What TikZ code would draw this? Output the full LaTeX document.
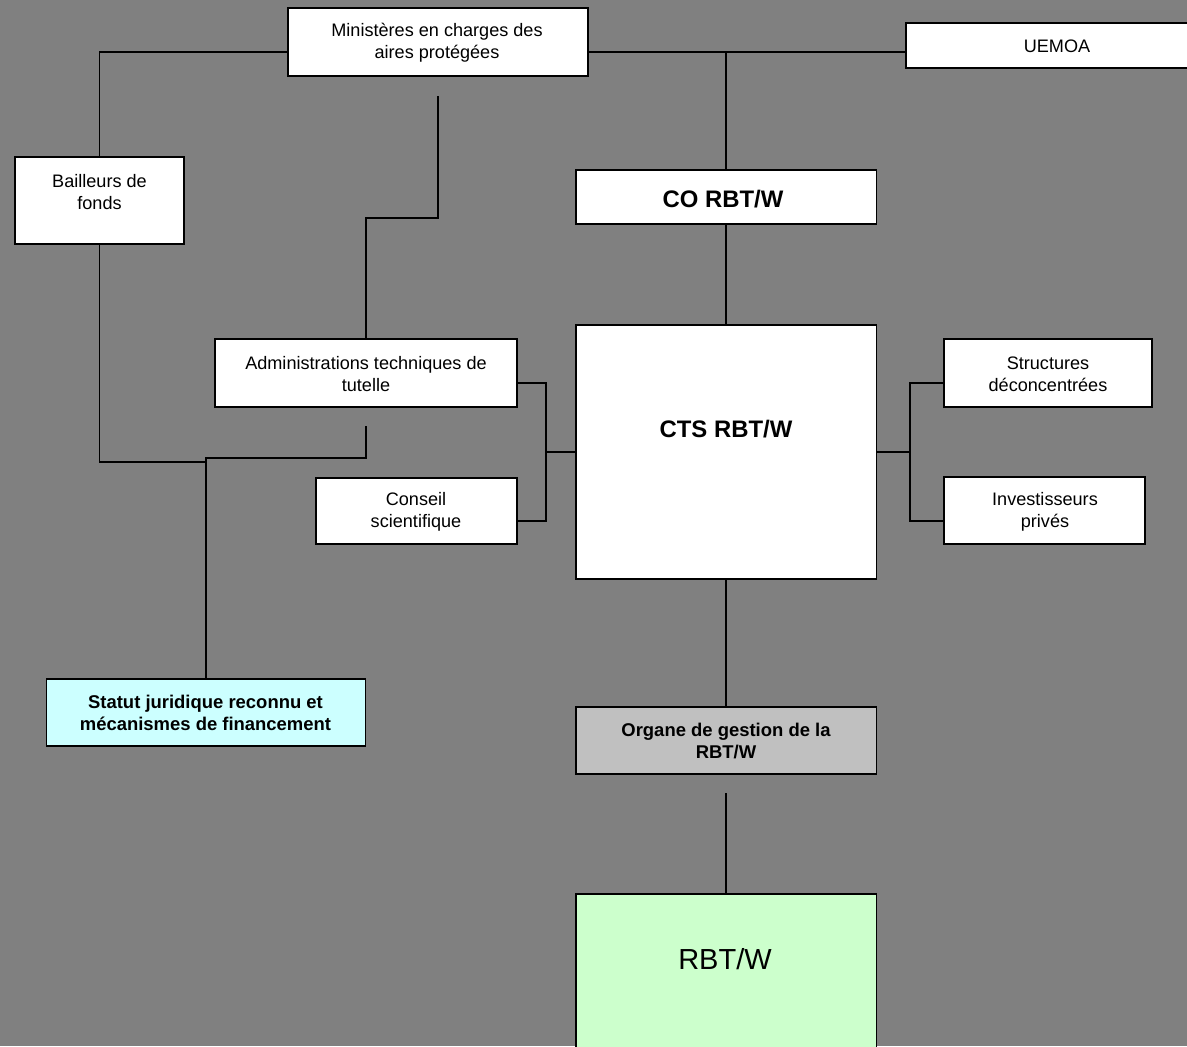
\documentclass[tikz,border=0pt]{standalone}
\usepackage{fontspec}
\setmainfont{Liberation Sans}
\definecolor{bg}{HTML}{808080}
\definecolor{cyanfill}{HTML}{CCFFFF}
\definecolor{greenfill}{HTML}{CCFFCC}
\definecolor{greyfill}{HTML}{C0C0C0}
\begin{document}
\begin{tikzpicture}[x=0.02cm,y=-0.02cm,
  box/.style={draw=black,line width=1.1pt,fill=white,rectangle,inner sep=0pt},
  txt/.style={align=center,inner sep=0pt,font=\fontsize{10.3}{12.5}\selectfont},
  btxt/.style={align=center,inner sep=0pt,font=\fontsize{10.5}{12.5}\selectfont\bfseries},
  bigtxt/.style={align=center,inner sep=0pt,font=\fontsize{13.6}{15}\selectfont\bfseries},
  conn/.style={draw=black,line width=1.1pt}]
\useasboundingbox (0,0) rectangle (1187,1046);
\clip (0,0) rectangle (1187,1046);
\fill[bg] (0,0) rectangle (1187,1046);

% boxes
\node[box,minimum width=6.00cm,minimum height=1.36cm] (min) at (438,42) {};
\node[box,minimum width=6.04cm,minimum height=0.90cm] (uemoa) at (1057,45.5) {};
\node[box,minimum width=3.38cm,minimum height=1.74cm] (bail) at (99.5,200.5) {};
\node[box,minimum width=6.04cm,minimum height=1.36cm] (admin) at (366,373) {};
\node[box,minimum width=4.02cm,minimum height=1.32cm] (conseil) at (416.5,511) {};
\node[box,minimum width=6.38cm,minimum height=1.34cm,fill=cyanfill] (statut) at (206,712.5) {};
\node[box,minimum width=6.02cm,minimum height=1.08cm] (co) at (726,197) {};
\node[box,minimum width=6.02cm,minimum height=5.08cm] (cts) at (726,452) {};
\node[box,minimum width=4.16cm,minimum height=1.36cm] (struct) at (1048,373) {};
\node[box,minimum width=4.02cm,minimum height=1.34cm] (invest) at (1044.5,510.5) {};
\node[box,minimum width=6.02cm,minimum height=1.34cm,fill=greyfill] (organe) at (726,740.5) {};
\node[box,minimum width=6.02cm,minimum height=3.32cm,fill=greenfill] (rbt) at (726,977) {};

% texts
\node[txt] (min-t) at (437,43) {Ministères en charges des\\aires protégées};
\node[txt] (uemoa-t) at (1057,46) {UEMOA};
\node[txt] (bail-t) at (99.5,192) {Bailleurs de\\fonds};
\node[txt] (admin-t) at (366,374) {Administrations techniques de\\tutelle};
\node[txt] (conseil-t) at (416,512) {Conseil\\scientifique};
\node[btxt] (statut-t) at (205.5,713) {Statut juridique reconnu et\\mécanismes de financement};
\node[bigtxt] (co-t) at (723,199) {CO RBT/W};
\node[bigtxt] (cts-t) at (726,429) {CTS RBT/W};
\node[txt] (struct-t) at (1048,374) {Structures\\déconcentrées};
\node[txt] (invest-t) at (1045,512) {Investisseurs\\privés};
\node[btxt] (organe-t) at (726,741) {Organe de gestion de la\\RBT/W};
\node[align=center,inner sep=0pt,font=\fontsize{16.5}{19}\selectfont] (rbt-t) at (725,959) {RBT/W};

% junction coordinates
\coordinate (jtop) at (726,52);
\coordinate (jbail) at (99.5,52);
\coordinate (adminfree) at (438,96);
\coordinate (adminbend1) at (438,218);
\coordinate (adminbend2) at (366,218);
\coordinate (bailbend) at (99.5,462);
\coordinate (bailend) at (206,462);
\coordinate (statfree) at (366,426);
\coordinate (statbend1) at (366,458);
\coordinate (statbend2) at (206,458);
\coordinate (ljoin) at (546,452);
\coordinate (ltop) at (546,383);
\coordinate (lbot) at (546,521);
\coordinate (rjoin) at (910,452);
\coordinate (rtop) at (910,383);
\coordinate (rbot) at (910,521);
\coordinate (orgfree) at (726,793);

% connectors
\draw[conn] (min.west|-jtop) -- (jbail) -- (bail.north);
\draw[conn] (min.east|-jtop) -- (uemoa.west|-jtop);
\draw[conn] (jtop) -- (co.north);
\draw[conn] (adminfree) -- (adminbend1) -- (adminbend2) -- (admin.north);
\draw[conn] (co.south) -- (cts.north);
\draw[conn] (bail.south) -- (bailbend) -- (bailend);
\draw[conn] (statfree) -- (statbend1) -- (statbend2) -- (statut.north);
\draw[conn] (admin.east|-ltop) -- (ltop) -- (lbot) -- (conseil.east|-lbot);
\draw[conn] (ljoin) -- (cts.west);
\draw[conn] (cts.east) -- (rjoin);
\draw[conn] (struct.west|-rtop) -- (rtop) -- (rbot) -- (invest.west|-rbot);
\draw[conn] (cts.south) -- (organe.north);
\draw[conn] (orgfree) -- (rbt.north);
\end{tikzpicture}
\end{document}
